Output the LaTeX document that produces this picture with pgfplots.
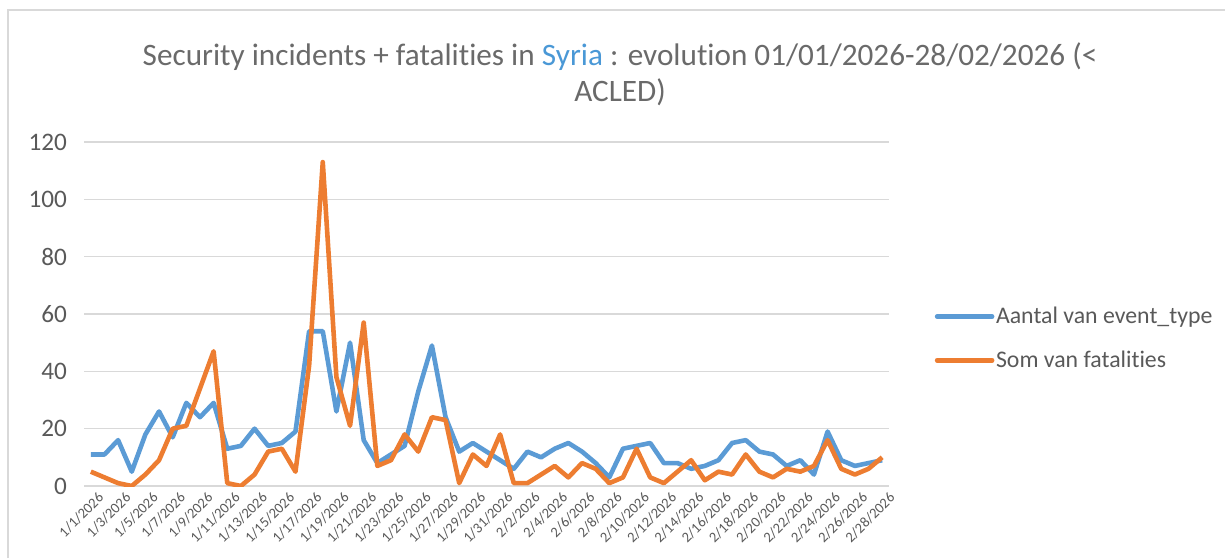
\documentclass[border=0pt]{standalone}
\usepackage{pgfplots}
\pgfplotsset{compat=1.18}
\usepackage{fontspec}
\setmainfont[RawFeature=-liga]{Carlito}
\definecolor{serA}{HTML}{5B9BD5}
\definecolor{serB}{HTML}{ED7D31}
\definecolor{txt}{HTML}{595959}
\definecolor{ttl}{HTML}{6A6A6A}
\definecolor{grd}{HTML}{D9D9D9}
\definecolor{syr}{HTML}{4A98D6}

% day index 1..59 (1 Jan - 28 Feb 2026)
\pgfplotstableread{
d ev fat
1 11 5
2 11 3
3 16 1
4 5 0
5 18 4
6 26 9
7 17 20
8 29 21
9 24 34
10 29 47
11 13 1
12 14 0
13 20 4
14 14 12
15 15 13
16 19 5
17 54 42
18 54 113
19 26 38
20 50 21
21 16 57
22 8 7
23 11 9
24 14 18
25 33 12
26 49 24
27 24 23
28 12 1
29 15 11
30 12 7
31 9 18
32 6 1
33 12 1
34 10 4
35 13 7
36 15 3
37 12 8
38 8 6
39 3 1
40 13 3
41 14 13
42 15 3
43 8 1
44 8 5
45 6 9
46 7 2
47 9 5
48 15 4
49 16 11
50 12 5
51 11 3
52 7 6
53 9 5
54 4 7
55 19 16
56 9 6
57 7 4
58 8 6
59 9 10
}\datatable

\begin{document}
\begin{tikzpicture}
\useasboundingbox (0,0) rectangle (612.5pt,279pt);
% chart frame
\draw[grd, line width=1pt] (4pt,0pt) -- (4pt,274pt) -- (612.5pt,274pt);

% title
\node[text=ttl, font=\fontsize{15.6}{18}\selectfont] at (310pt,250.5pt)
  {Security incidents + fatalities in \textcolor{syr}{Syria} : evolution 01/01/2026-28/02/2026 (<};
\node[text=ttl, font=\fontsize{15.6}{18}\selectfont] at (310pt,233pt) {ACLED)};

\begin{axis}[
    at={(42pt,36pt)}, anchor=south west,
    scale only axis,
    width=402.5pt, height=172pt,
    xmin=0.5, xmax=59.5,
    ymin=0, ymax=120,
    ytick={0,20,...,120},
    xtick={1,3,...,59},
    xticklabels={1/1/2026,1/3/2026,1/5/2026,1/7/2026,1/9/2026,1/11/2026,1/13/2026,1/15/2026,
        1/17/2026,1/19/2026,1/21/2026,1/23/2026,1/25/2026,1/27/2026,1/29/2026,1/31/2026,
        2/2/2026,2/4/2026,2/6/2026,2/8/2026,2/10/2026,2/12/2026,2/14/2026,2/16/2026,
        2/18/2026,2/20/2026,2/22/2026,2/24/2026,2/26/2026,2/28/2026},
    major tick length=0pt,
    ymajorgrids,
    grid style={grd, line width=0.75pt},
    axis x line*=bottom,
    axis y line*=left,
    x axis line style={grd, line width=0.75pt, -},
    y axis line style={draw=none},
    /pgf/number format/assume math mode=true,
    yticklabel style={text=txt, font=\fontsize{12.6}{14}\selectfont, xshift=-5pt},
    xticklabel style={text=txt, font=\fontsize{7.3}{8}\selectfont, rotate=45, anchor=north east, inner sep=1pt, xshift=1.5pt, yshift=-3pt},
    legend style={at={(1.049,0.429)}, anchor=west, draw=none, fill=none,
        font=\fontsize{11.9}{14}\selectfont, text=txt, row sep=10.5pt,
        nodes={inner sep=0.8pt}},
    legend cell align=left,
    legend image code/.code={\draw[#1, line cap=round] (0pt,0pt) -- (27.5pt,0pt);},
]
\addplot[serA, line width=2.3pt, line join=round] table[x=d, y=ev] {\datatable};
\addlegendentry{Aantal van event\_type}
\addplot[serB, line width=2.3pt, line join=round] table[x=d, y=fat] {\datatable};
\addlegendentry{Som van fatalities}
\end{axis}
\end{tikzpicture}
\end{document}
